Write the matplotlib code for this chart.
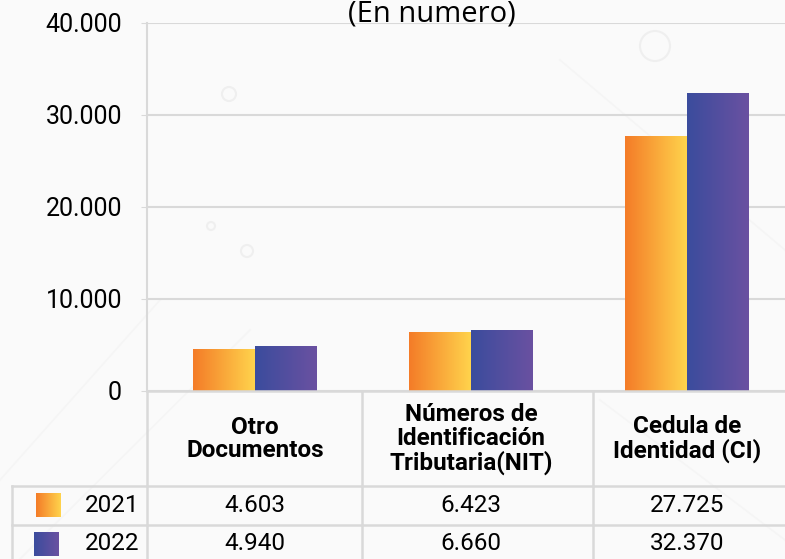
import numpy as np
import matplotlib.pyplot as plt
from matplotlib.colors import LinearSegmentedColormap

categorias = ["Otro\nDocumentos", "Números de\nIdentificación\nTributaria(NIT)", "Cedula de\nIdentidad (CI)"]
anios = ["2021", "2022"]
v2021 = [4603, 6423, 27725]
v2022 = [4940, 6660, 32370]
etiquetas_2021 = ["4.603", "6.423", "27.725"]
etiquetas_2022 = ["4.940", "6.660", "32.370"]
yticks = [0, 10000, 20000, 30000, 40000]
ytick_labels = ["0", "10.000", "20.000", "30.000", "40.000"]

W, H = 785, 559
grid_c = "#d9d9d9"
cmap21 = LinearSegmentedColormap.from_list("c21", ["#f47c28", "#ffd34c"])
cmap22 = LinearSegmentedColormap.from_list("c22", ["#3b4c9d", "#6a51a1"])

plt.rcParams['font.family'] = ['Roboto', 'DejaVu Sans']

fig = plt.figure(figsize=(W / 100, H / 100), dpi=100)
fig.patch.set_facecolor("#fafafa")

# background decoration (very faint)
bg = fig.add_axes([0, 0, 1, 1])
bg.set_xlim(0, W)
bg.set_ylim(H, 0)
bg.axis("off")
bg.set_zorder(-5)
for cx, cy, r in [(655, 46, 15), (229, 94, 7), (247, 251, 6), (211, 226, 4)]:
    bg.add_patch(plt.Circle((cx, cy), r, fill=False, ec="#efefef", lw=1.5))
for x0, y0, x1, y1 in [(0, 480, 160, 300), (20, 559, 250, 330), (560, 60, 785, 250), (600, 400, 785, 540)]:
    bg.plot([x0, x1], [y0, y1], color="#f5f5f5", lw=1.2)

# bars
ax = fig.add_axes([147 / W, (H - 391) / H, (W - 147) / W, (391 - 23) / H])
ax.set_facecolor("none")
x = np.arange(len(categorias))
bw = 0.285
b1 = ax.bar(x - bw / 2, v2021, bw, color="none", zorder=3)
b2 = ax.bar(x + bw / 2, v2022, bw, color="none", zorder=3)
grad = np.linspace(0, 1, 100).reshape(1, -1)
for bars, cm in [(b1, cmap21), (b2, cmap22)]:
    for b in bars:
        x0, w, h = b.get_x(), b.get_width(), b.get_height()
        im = ax.imshow(grad, cmap=cm, aspect="auto", extent=[x0, x0 + w, 0, h], zorder=3)
        im.set_clip_path(b)
ax.set_xlim(-0.5, (W - 255) / 216)
ax.set_ylim(0, 40000)
ax.set_yticks(yticks)
ax.set_yticklabels(ytick_labels, fontsize=18)
ax.tick_params(axis="y", length=4, color=grid_c, pad=14)
ax.set_xticks([])
ax.grid(axis="y", color=grid_c, lw=1.5, zorder=0)
for s in ["top", "right", "bottom"]:
    ax.spines[s].set_visible(False)
ax.spines["left"].set_color(grid_c)
ax.spines["left"].set_linewidth(1.5)

# data table
t = fig.add_axes([0, 0, 1, 1])
t.axis("off")
lk = dict(color=grid_c, lw=1.8)
t.plot([147, W], [391, 391], **lk)
t.plot([12, W], [486, 486], **lk)
t.plot([12, W], [525, 525], **lk)
for xv, y0 in [(12, 486), (147, 391), (362, 391), (593, 391)]:
    t.plot([xv, xv], [y0, H], **lk)
centros = [255, 471, 687]
for c, cat in zip(centros, categorias):
    t.text(c, 439, cat, ha="center", va="center", fontsize=17.5, fontweight="bold", linespacing=1.05)
for y, anio, etiquetas, cm in [(505, anios[0], etiquetas_2021, cmap21), (544, anios[1], etiquetas_2022, cmap22)]:
    sx = 36 if anio == "2021" else 34
    t.imshow(grad, cmap=cm, aspect="auto", extent=[sx, sx + 25, y + 12, y - 12], zorder=3)
    t.text(139, y, anio, ha="right", va="center", fontsize=17.5)
    for c, lab in zip(centros, etiquetas):
        t.text(c, y, lab, ha="center", va="center", fontsize=17.5)
t.text(432, 21, "(En numero)", ha="center", va="baseline",
       fontsize=21, family=["Open Sans", "DejaVu Sans"])
t.set_xlim(0, W)
t.set_ylim(H, 0)

fig.savefig("out.png", dpi=100, facecolor=fig.get_facecolor())
